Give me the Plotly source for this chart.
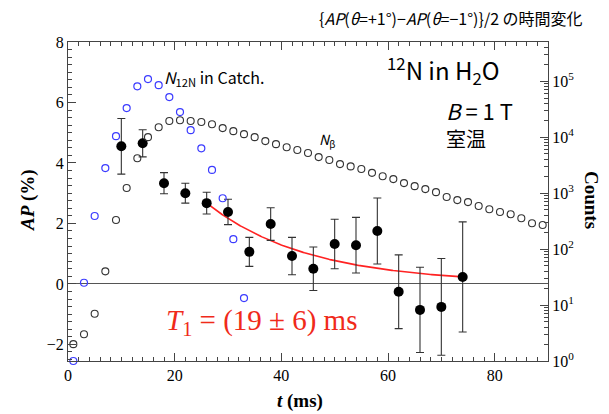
import numpy as np
import plotly.graph_objects as go

# Asymmetry AP(t) per 4 ms time bin
t_ap = [10, 14, 18, 22, 26, 30, 34, 38, 42, 46, 50, 54, 58, 62, 66, 70, 74]
ap = [4.55, 4.65, 3.33, 3.00, 2.67, 2.38, 1.06, 1.98, 0.92, 0.50, 1.32, 1.28,
      1.75, -0.26, -0.86, -0.76, 0.23]
ap_err = [0.92, 0.45, 0.35, 0.33, 0.36, 0.42, 0.48, 0.54, 0.62, 0.72, 0.82,
          0.92, 1.09, 1.22, 1.41, 1.60, 1.82]

# 12N counts in the catcher (2 ms bins)
t_catch = [1, 3, 5, 7, 9, 11, 13, 15, 17, 19, 21, 23, 25, 27, 29, 31, 33]
n_catch = [1, 25, 390, 2800, 10400, 33000, 81000, 109000, 85000, 52000,
           28000, 13300, 6300, 2600, 810, 150, 13.3]

# beta counts (2 ms bins)
t_beta = [1, 3, 5, 7, 9, 11, 13, 15, 17, 19, 21, 23, 25, 27, 29, 31, 33, 35,
          37, 39, 41, 43, 45, 47, 49, 51, 53, 55, 57, 59, 61, 63, 65, 67, 69,
          71, 73, 75, 77, 79, 81, 83, 85, 87, 89]
n_beta = [2, 3, 7, 40, 330, 1230, 4200, 10000, 15000, 19400, 20000, 19400,
          18600, 17000, 14500, 12800, 11300, 10000, 8500, 7500, 6600, 5900,
          5200, 4400, 3900, 3300, 3000, 2700, 2300, 2000, 1780, 1510, 1330,
          1180, 1040, 850, 750, 690, 590, 515, 460, 420, 355, 290, 270]

# relaxation fit: AP(t) = A exp(-(t - t0)/T1) + C
T1 = 19.0
T1_err = 6.0
fit_t0, fit_t1 = 26.0, 74.0
fit_amp = 2.65
fit_off = 0.02

x_ticks = [0, 20, 40, 60, 80]
y_ticks = [-2, 0, 2, 4, 6, 8]
count_decades = [0, 1, 2, 3, 4, 5]
count_ticks = [10 ** d for d in count_decades]
count_labels = [f"10<sup>{d}</sup>" for d in count_decades]
count_minor = [m * 10 ** d for d in count_decades for m in range(2, 10)]

SERIF = "Liberation Serif"
SANS = "Noto Sans CJK JP"
RED = "#f02a1a"

# plot-area pixel frame used to place labels
L, R, T, B = 68, 548, 42, 361


def px(x):
    return (x - L) / (R - L)


def py(y):
    return (B - y) / (B - T)


fig = go.Figure()

fig.add_trace(go.Scatter(
    x=t_catch, y=n_catch, yaxis="y2", mode="markers",
    marker=dict(symbol="circle-open", size=7, color="#3b3bff",
                line=dict(width=1.2)),
    showlegend=False, cliponaxis=False))

fig.add_trace(go.Scatter(
    x=t_beta, y=n_beta, yaxis="y2", mode="markers",
    marker=dict(symbol="circle-open", size=7, color="#333333",
                line=dict(width=1.1)),
    showlegend=False, cliponaxis=False))

tf = np.linspace(fit_t0, fit_t1, 200)
fig.add_trace(go.Scatter(
    x=tf, y=fit_amp * np.exp(-(tf - fit_t0) / T1) + fit_off,
    mode="lines", line=dict(color="#ff2222", width=1.6), showlegend=False))

fig.add_trace(go.Scatter(
    x=t_ap, y=ap, mode="markers",
    marker=dict(symbol="circle", size=10, color="black"),
    error_y=dict(type="data", array=ap_err, color="#333333",
                 thickness=1.1, width=4),
    showlegend=False))

axis_common = dict(showline=True, linecolor="#444444", linewidth=1,
                   ticks="inside", tickcolor="#444444", showgrid=False,
                   tickfont=dict(family=SERIF, size=16, color="black"))

fig.update_layout(
    width=609, height=414,
    margin=dict(l=L, r=609 - R, t=T, b=414 - B),
    paper_bgcolor="white", plot_bgcolor="white",
    xaxis=dict(range=[0, 90], tickvals=x_ticks, ticklen=8, mirror="ticks",
               minor=dict(ticks="inside", dtick=2, ticklen=4,
                          tickcolor="#444444"),
               zeroline=False, **axis_common),
    yaxis=dict(range=[-2.55, 8], tickvals=y_ticks, ticklen=8,
               minor=dict(ticks="inside", dtick=0.25, ticklen=4,
                          tickcolor="#444444"),
               zeroline=True, zerolinecolor="#555555", zerolinewidth=1,
               **axis_common),
    yaxis2=dict(type="log", range=[0, 5.7], overlaying="y", side="right",
                tickvals=count_ticks, ticktext=count_labels, ticklen=8,
                minor=dict(ticks="inside", ticklen=4, tickcolor="#444444",
                           tickvals=count_minor),
                **axis_common),
)

ann = [
    dict(x=px(585), y=py(18), xanchor="right", yanchor="middle",
         text="{<i>AP</i>(<i>θ</i>=+1°)−<i>AP</i>(<i>θ</i>=−1°)}/2 の時間変化",
         font=dict(family=SANS, size=16, color="black")),
    dict(x=px(443), y=py(70), xanchor="center", yanchor="middle",
         text="<sup>12</sup>N in H<sub>2</sub>O",
         font=dict(family=SANS, size=24, color="black")),
    dict(x=px(444), y=py(110), xanchor="left", yanchor="middle",
         text="<i>B</i> = 1 T",
         font=dict(family=SANS, size=22, color="black")),
    dict(x=px(444), y=py(138), xanchor="left", yanchor="middle",
         text="室温", font=dict(family=SANS, size=20, color="black")),
    dict(x=px(162), y=py(77), xanchor="left", yanchor="middle",
         text="<i>N</i><sub>12N</sub> in Catch.",
         font=dict(family=SANS, size=16, color="black")),
    dict(x=px(317), y=py(140), xanchor="left", yanchor="middle",
         text="<i>N</i><sub>β</sub>",
         font=dict(family=SANS, size=14, color="black")),
    dict(x=px(164), y=py(322), xanchor="left", yanchor="middle",
         text=f"<i>T</i><sub>1</sub> = ({T1:.0f} ± {T1_err:.0f}) ms",
         font=dict(family=SERIF, size=29, color=RED)),
    dict(x=px(28), y=py(200), xanchor="center", yanchor="middle",
         textangle=-90, text="<b><i>AP</i> (%)</b>",
         font=dict(family=SERIF, size=19, color="black")),
    dict(x=px(300), y=py(401), xanchor="center", yanchor="middle",
         text="<b><i>t</i> (ms)</b>",
         font=dict(family=SERIF, size=19, color="black")),
    dict(x=px(592), y=py(200), xanchor="center", yanchor="middle",
         textangle=90, text="<b>Counts</b>",
         font=dict(family=SERIF, size=19, color="black")),
]
for a in ann:
    a.update(xref="paper", yref="paper", showarrow=False)
fig.update_layout(annotations=ann)

fig.write_html("out.html")
